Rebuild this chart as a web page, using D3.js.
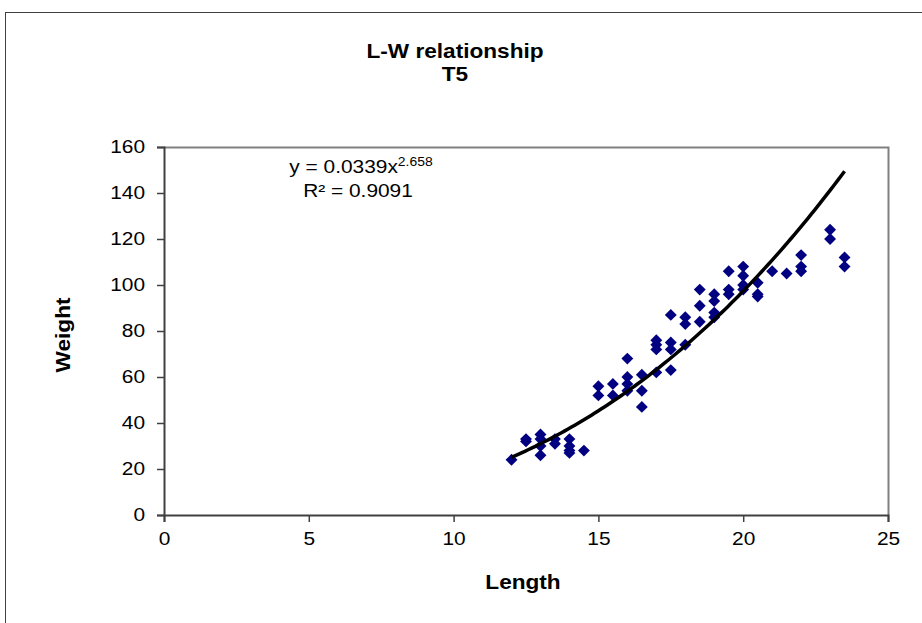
<!DOCTYPE html>
<html><head><meta charset="utf-8">
<script src="https://cdn.jsdelivr.net/npm/d3@7"></script>
<style>body{margin:0;background:#fff;} svg{display:block;font-family:"Liberation Sans",Arial,sans-serif;}</style>
</head><body>
<script>
const lengths = [12,12.5,12.5,13,13,13,13,13.5,13.5,14,14,14,14,14.5,15,15,15.5,15.5,16,16,16,16,16.5,16.5,16.5,17,17,17,17,17.5,17.5,17.5,17.5,18,18,18,18.5,18.5,18.5,19,19,19,19,19.5,19.5,19.5,20,20,20,20,20.5,20.5,20.5,21,21.5,22,22,22,23,23,23.5,23.5];
const weights = [24,33,32,35,33,30,26,33,31,33,30,28,27,28,56,52,57,52,68,60,57,54,61,54,47,76,74,72,62,87,75,72,63,86,83,74,98,91,84,96,93,88,86,106,98,96,108,104,100,98,101,96,95,106,105,113,108,106,124,120,112,108];
const fitA = 0.0339, fitB = 2.658, fitMin = 12, fitMax = 23.5;
const xTicks = [0,5,10,15,20,25];
const yTicks = [0,20,40,60,80,100,120,140,160];

const W = 922, H = 623;
const SX = 1.16;
const svg = d3.select("body").append("svg").attr("width", W).attr("height", H);
svg.append("rect").attr("x",5.5).attr("y",12.5).attr("width",W).attr("height",H).attr("fill","#fff").attr("stroke","#404040").attr("stroke-width",1);

const L = 164, R = 888, T = 147, B = 515;
const x = d3.scaleLinear().domain([0,25]).range([L,R]);
const y = d3.scaleLinear().domain([0,160]).range([B,T]);

svg.append("path").attr("d",`M${L},${T+0.5}H${R+0.5}V${B}`).attr("fill","none").attr("stroke","#808080").attr("stroke-width",2);

const yAxis = svg.append("g").attr("transform",`translate(${L},0)`).call(d3.axisLeft(y).tickValues(yTicks).tickSize(7).tickPadding(12).tickFormat(d3.format("d")));
const xAxis = svg.append("g").attr("transform",`translate(0,${B})`).call(d3.axisBottom(x).tickValues(xTicks).tickSize(7).tickPadding(10).tickFormat(d3.format("d")));
[yAxis,xAxis].forEach(g=>{
  g.selectAll("path").attr("stroke","#404040").attr("stroke-width",2);
  g.selectAll("line").attr("stroke","#404040").attr("stroke-width",1.5);
  g.selectAll("text").attr("font-size",18).attr("fill","#000").attr("font-family","Liberation Sans, Arial, sans-serif")
    .each(function(){const t=d3.select(this); const tx=+t.attr("x")||0; const ty=+t.attr("y")||0;
      t.attr("x",0).attr("y",0).attr("transform",`translate(${tx},${ty}) scale(${SX},1)`);});
});

const diamond = d3.symbol().type(d3.symbolDiamond2).size(90);
svg.append("g").selectAll("path").data(lengths.map((l,i)=>[l,weights[i]])).join("path")
  .attr("d", diamond).attr("transform", d=>`translate(${x(d[0])},${y(d[1])})`)
  .attr("fill","#000080");

const curvePts = d3.range(0,101).map(i=>{const lx = fitMin + (fitMax-fitMin)*i/100; return [lx, fitA*Math.pow(lx,fitB)];});
svg.append("path").datum(curvePts).attr("d", d3.line().x(d=>x(d[0])).y(d=>y(d[1])).curve(d3.curveMonotoneX))
  .attr("fill","none").attr("stroke","#000").attr("stroke-width",3.5);

function stext(px, py, str, size, bold, rot){
  const g = svg.append("g").attr("transform",`translate(${px},${py})${rot?` rotate(${rot})`:""} scale(${SX},1)`);
  return g.append("text").attr("text-anchor","middle").attr("font-size",size).attr("font-weight",bold?"bold":"normal").text(str);
}
const eqG = svg.append("g").attr("transform",`translate(361,173) scale(${SX},1)`);
const eq = eqG.append("text").attr("text-anchor","middle").attr("font-size",18);
eq.append("tspan").text("y = 0.0339x");
eq.append("tspan").attr("dy",-7).attr("font-size",12).text("2.658");
stext(358,197,"R² = 0.9091",18,false);

stext(455,58,"L-W relationship",19.5,true);
stext(455,81,"T5",19.5,true);
stext(70,335,"Weight",19.5,true,-90);
stext(523,589,"Length",19.5,true);
</script>
</body></html>
